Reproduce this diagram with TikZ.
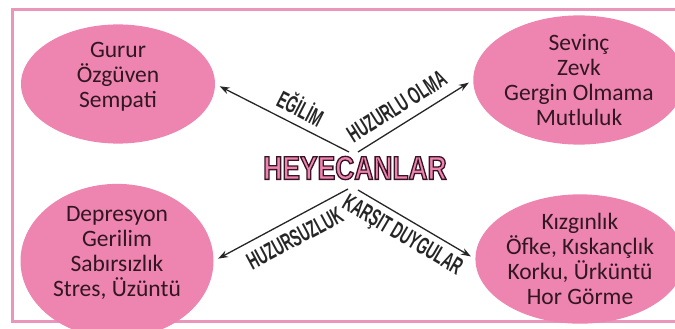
\documentclass[tikz,border=0pt]{standalone}
\usepackage{fontspec}
\setmainfont{Carlito}
\newfontfamily\lblfont[FakeStretch=0.58]{Liberation Sans}
\newfontfamily\ttlfont[FakeStretch=0.8]{Liberation Sans}
\usetikzlibrary{shapes.geometric,arrows.meta}
\definecolor{pembe}{RGB}{238,132,176}
\definecolor{cerceve}{RGB}{234,150,186}
\definecolor{koyu}{RGB}{50,22,34}
\newcommand\hatli[1]{\special{pdf:code 2 Tr 1.3 w 0.22 0.08 0.14 RG}#1\special{pdf:code 0 Tr}}

\begin{document}
\begin{tikzpicture}[x=1pt, y=-1pt,
		main/.style = {ellipse, fill=pembe, inner sep=0pt, align=center, text=koyu, font=\fontsize{23.5}{25}\selectfont},
		lbl/.style = {font=\lblfont\bfseries\fontsize{24}{24}\selectfont, text=black!85, inner sep=1pt},
		arr/.style = {-{Stealth[length=10pt, width=7pt]}, line width=1.3pt, black!85, shorten >=5pt}]
		\useasboundingbox (0,0) rectangle (675,329);
		\draw[cerceve, line width=3pt] (12,10) rectangle (690,321);
		\node[main, minimum width=194pt, minimum height=118pt] (1) at (118,84) {Gurur\\Özgüven\\Sempati\\[-6pt]\mbox{}};
		\node[main, minimum width=188pt, minimum height=125pt] (2) at (579,80) {Sevinç\\Zevk\\Gergin Olmama\\Mutluluk};
		\node[main, minimum width=193pt, minimum height=118pt] (3) at (117,261) {Depresyon\\Gerilim\\Sabırsızlık\\Stres, Üzüntü\\[-6pt]\mbox{}};
		\node[main, minimum width=185pt, minimum height=122pt] (4) at (580,259) {Kızgınlık\\Öfke, Kıskançlık\\Korku, Ürküntü\\Hor Görme};
		\node[text=pembe, font=\ttlfont\bfseries\fontsize{33}{33}\selectfont, inner sep=0pt] (0) at (355,168) {\hatli{HEYECANLAR}};
		\coordinate (a) at (349,152);
		\coordinate (b) at (358,152);
		\coordinate (c) at (348,189);
		\coordinate (d) at (358,190);
		\draw[arr] (a) -- node[lbl, sloped, above=6pt, pos=0.42] {EĞİLİM} (1.east);
		\draw[arr] (b) -- node[lbl, sloped, above=8pt, pos=0.42] {HUZURLU OLMA} (2.west);
		\draw[arr] (c) -- node[lbl, sloped, below=8pt, pos=0.46] {HUZURSUZLUK} (3.east);
		\draw[arr] (d) -- node[lbl, sloped, below=5pt, pos=0.45] {KARŞIT DUYGULAR} (4.west);
	\end{tikzpicture}
\end{document}
